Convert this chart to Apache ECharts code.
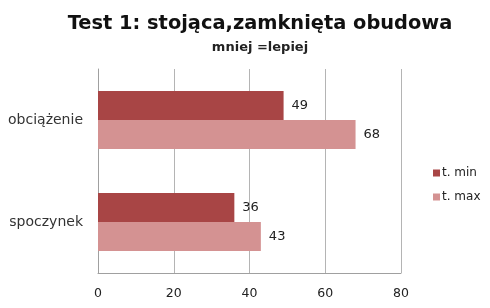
<!DOCTYPE html>
<html><head><meta charset="utf-8">
<script src="https://cdn.jsdelivr.net/npm/echarts@6/dist/echarts.min.js"></script>
<style>html,body{margin:0;padding:0;background:#fff}#c{width:490px;height:308px}</style>
</head><body><div id="c"></div>
<script>
var categories = ['spoczynek', 'obciążenie'];
var tMin = [36, 49];
var tMax = [43, 68];
var xTicks = [0, 20, 40, 60, 80];

var chart = echarts.init(document.getElementById('c'), null, {renderer: 'canvas'});
var labelStyle = {show: true, position: 'right', distance: 8, color: '#222', fontSize: 13, fontFamily: 'DejaVu Sans'};
chart.setOption({
  animation: false,
  title: {
    text: 'Test 1: stojąca,zamknięta obudowa',
    subtext: 'mniej =lepiej',
    left: 255, textAlign: 'center', top: 9,
    itemGap: 8,
    textStyle: {fontFamily: 'DejaVu Sans', fontWeight: 'bold', fontSize: 19.4, color: '#111'},
    subtextStyle: {fontFamily: 'DejaVu Sans', fontWeight: 'bold', fontSize: 13, color: '#222'}
  },
  legend: {
    orient: 'vertical', left: 428, top: 162, itemWidth: 7, itemHeight: 7, itemGap: 12,
    icon: 'rect',
    textStyle: {fontFamily: 'DejaVu Sans', fontSize: 12, color: '#222', padding: [0,0,0,-3]},
    data: ['t. min', 't. max']
  },
  grid: {left: 98, right: 89, top: 69, bottom: 35, containLabel: false},
  xAxis: {
    type: 'value', min: 0, max: 80, interval: 20,
    axisLine: {show: true, lineStyle: {color: '#a0a0a0'}},
    axisTick: {show: false},
    splitLine: {show: true, lineStyle: {color: '#b4b4b4'}},
    axisLabel: {margin: 14, color: '#222', fontSize: 12.5, fontFamily: 'DejaVu Sans',
      formatter: function (v) { return xTicks.indexOf(v) >= 0 ? String(v) : ''; }}
  },
  yAxis: {
    type: 'category', data: categories,
    axisLine: {show: true, lineStyle: {color: '#a0a0a0'}},
    axisTick: {show: false},
    axisLabel: {margin: 15, color: '#333', fontSize: 14, fontFamily: 'DejaVu Sans'}
  },
  series: [
    {name: 't. min', type: 'bar', data: tMin, barWidth: 29, barGap: '0%', itemStyle: {color: '#A84545'}, label: labelStyle},
    {name: 't. max', type: 'bar', data: tMax, barWidth: 29, barGap: '0%', itemStyle: {color: '#D49292'}, label: labelStyle}
  ]
});
</script></body></html>
